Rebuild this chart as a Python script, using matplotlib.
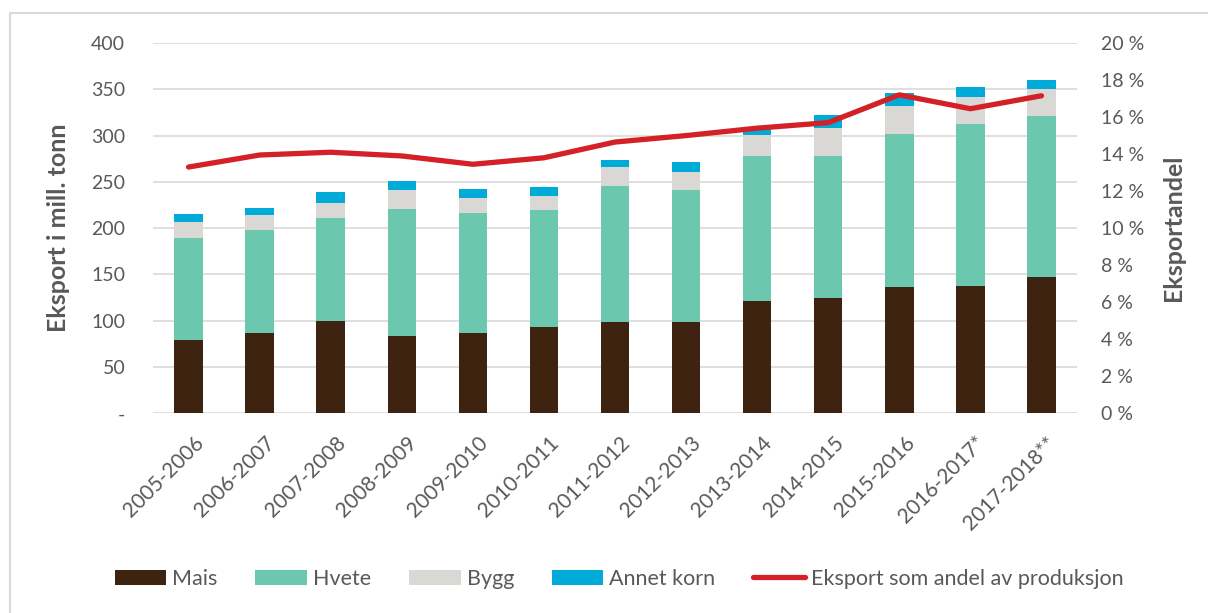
import matplotlib.pyplot as plt
import numpy as np
from matplotlib.lines import Line2D
from matplotlib.ticker import FuncFormatter, MultipleLocator
from matplotlib.transforms import ScaledTranslation

plt.rcParams['font.family'] = ['Lato', 'DejaVu Sans']

# data
seasons = ['2005-2006', '2006-2007', '2007-2008', '2008-2009', '2009-2010',
           '2010-2011', '2011-2012', '2012-2013', '2013-2014', '2014-2015',
           '2015-2016', '2016-2017*', '2017-2018**']
mais = [79, 87, 100, 84, 87, 93, 99, 99, 121, 125, 136, 138, 147]
hvete = [110, 111, 111, 137, 129, 127, 146, 142, 157, 153, 166, 175, 174]
bygg = [18, 16, 16, 20, 17, 15, 21, 20, 23, 30, 30, 29, 29]
annet = [8, 8, 12, 10, 9, 9, 8, 10, 7, 14, 14, 10, 10]
andel = [13.3, 13.95, 14.1, 13.9, 13.45, 13.8, 14.65, 15.0, 15.4, 15.7, 17.2, 16.45, 17.15]

col_mais = '#3f2311'
col_hvete = '#6bc7ae'
col_bygg = '#d9d8d4'
col_annet = '#00abd8'
col_line = '#d42027'
txt = '#595959'

W, H = 1208, 613
fig = plt.figure(figsize=(W / 100, H / 100), dpi=100)
# chart frame: only the left and top edges are inside the picture
fig.add_artist(Line2D([10 / W, 10 / W, 1], [0, 1 - 13 / H, 1 - 13 / H],
                      transform=fig.transFigure, color='#d9d9d9', lw=1.5))

ax = fig.add_axes([153 / W, 1 - 413.3 / H, 924 / W, 370.3 / H])
x = np.arange(len(seasons))
w = 0.4
b1 = np.array(mais)
b2 = b1 + np.array(hvete)
b3 = b2 + np.array(bygg)
ax.bar(x, mais, w, color=col_mais, label='Mais', zorder=2)
ax.bar(x, hvete, w, bottom=b1, color=col_hvete, label='Hvete', zorder=2)
ax.bar(x, bygg, w, bottom=b2, color=col_bygg, label='Bygg', zorder=2)
ax.bar(x, annet, w, bottom=b3, color=col_annet, label='Annet korn', zorder=2)

ax.set_xlim(-0.5, len(seasons) - 0.5)
ax.set_ylim(0, 400)
ax.yaxis.set_major_locator(MultipleLocator(50))
ax.yaxis.set_major_formatter(FuncFormatter(lambda v, p: '-' if v == 0 else f'{v:.0f}'))
ax.grid(axis='y', color='#d9d9d9', lw=1.2, zorder=0)
ax.set_axisbelow(True)
for s in ax.spines.values():
    s.set_visible(False)
ax.tick_params(axis='both', length=0, labelsize=14, colors=txt)
ax.tick_params(axis='y', pad=20)
ax.set_xticks(x)
ax.set_xticklabels(seasons, rotation=45, ha='right', va='top', rotation_mode='anchor',
                   fontsize=15)
ax.tick_params(axis='x', pad=14)
shift = ScaledTranslation(5 / 100, 0, fig.dpi_scale_trans)
for lab in ax.get_xticklabels():
    lab.set_transform(lab.get_transform() + shift)
ax.set_ylabel('Eksport i mill. tonn', fontsize=18, fontweight='bold', color=txt)
ax.yaxis.set_label_coords((70 - 153) / 924, 0.5)

ax2 = ax.twinx()
ax2.plot(x, andel, color=col_line, lw=3.8, solid_capstyle='round',
         label='Eksport som andel av produksjon', zorder=3)
ax2.set_ylim(0, 20)
ax2.yaxis.set_major_locator(MultipleLocator(2))
ax2.yaxis.set_major_formatter(FuncFormatter(lambda v, p: f'{v:.0f} %'))
for s in ax2.spines.values():
    s.set_visible(False)
ax2.tick_params(axis='y', length=0, labelsize=14, colors=txt, pad=17)
ax2.set_ylabel('Eksportandel', fontsize=18, fontweight='bold', color=txt)
ax2.yaxis.set_label_coords((1162 - 153) / 924, 0.5)

h1, l1 = ax.get_legend_handles_labels()
h2, l2 = ax2.get_legend_handles_labels()
leg = fig.legend(h1 + h2, l1 + l2, loc='center', bbox_to_anchor=(619 / W, 1 - 579 / H), ncol=5,
                 frameon=False, fontsize=15.5, handlelength=2.4, handleheight=0.73,
                 columnspacing=1.75, handletextpad=0.28, borderpad=0, borderaxespad=0)
for t in leg.get_texts():
    t.set_color(txt)

fig.savefig('out.png', dpi=100)
